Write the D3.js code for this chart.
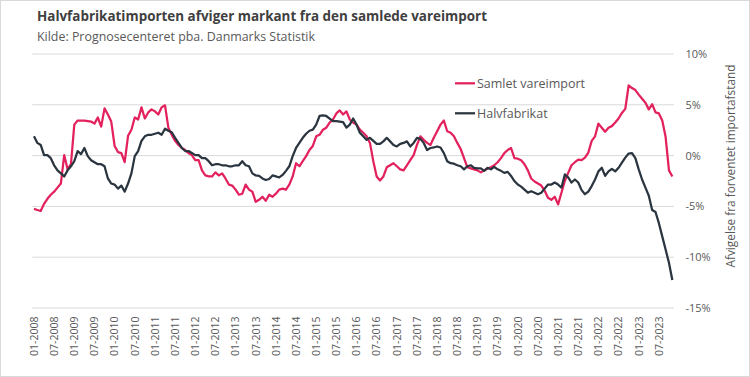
<!DOCTYPE html>
<html lang="da">
<head>
<meta charset="UTF-8">
<title>Halvfabrikatimporten</title>
<style>
  body { margin: 0; background: #fff; }
  svg text { font-family: "Open Sans", "Noto Sans", sans-serif; fill: #595959; }
</style>
</head>
<body>
<svg></svg>
<script src="https://d3js.org/d3.v7.min.js"></script>
<script>
// afvigelse fra forventet importafstand, pct., maanedlig 01-2008 .. 11-2023
const samlet = [
  -5.3, -5.4, -5.5, -4.8, -4.3, -3.9, -3.6, -3.2, -2.8, 0.0,
  -1.4, -0.9, 3.0, 3.4, 3.4, 3.4, 3.35, 3.3, 3.1, 3.7,
  2.8, 4.6, 4.0, 3.3, 0.9, 0.3, 0.2, -0.7, 1.9, 2.5,
  3.7, 3.5, 4.7, 3.6, 4.2, 4.5, 4.3, 4.0, 4.7, 4.9,
  2.7, 2.0, 1.4, 1.0, 0.7, 0.5, 0.2, 0.0, -0.5, -0.5,
  -1.5, -2.0, -2.1, -2.1, -1.7, -2.0, -1.8, -2.3, -2.9, -3.0,
  -3.4, -3.9, -3.8, -2.9, -3.4, -3.6, -4.6, -4.4, -4.1, -4.5,
  -3.9, -4.1, -3.8, -3.4, -3.3, -3.4, -2.9, -2.1, -0.8, -1.1,
  -0.6, -0.1, 0.5, 0.9, 1.85, 2.0, 2.5, 2.7, 3.2, 3.5,
  4.1, 4.4, 4.0, 4.3, 3.5, 3.2, 3.0, 2.5, 2.2, 1.85,
  1.2, -0.6, -2.1, -2.5, -2.1, -1.2, -1.0, -0.8, -1.1, -1.4,
  -1.5, -1.0, -0.5, 0.0, 1.0, 1.85, 1.5, 1.2, 1.0, 1.7,
  2.35, 3.0, 3.4, 2.35, 2.2, 1.85, 1.2, 0.6, -0.3, -1.2,
  -1.3, -1.4, -1.5, -1.7, -1.5, -1.35, -1.2, -1.0, -0.7, -0.3,
  0.2, 0.5, 0.7, -0.3, -0.35, -0.5, -0.9, -1.5, -2.3, -2.6,
  -2.8, -3.0, -3.5, -4.2, -4.4, -4.1, -4.85, -3.7, -2.55, -1.75,
  -1.0, -0.7, -0.45, -0.5, -0.25, 0.25, 1.4, 1.85, 3.1, 2.7,
  2.3, 2.7, 2.85, 3.2, 3.6, 4.15, 4.55, 6.85, 6.6, 6.4,
  5.95, 5.55, 5.15, 4.5, 5.0, 4.2, 4.1, 3.4, 1.8, -1.5,
  -2.1
];

const halvfabrikat = [
  1.85, 1.2, 1.0, 0.0, 0.0, -0.3, -1.0, -1.5, -1.8, -2.1,
  -1.5, -1.1, -0.6, 0.4, 0.1, 0.7, -0.1, -0.5, -0.7, -0.9,
  -0.9, -1.1, -2.3, -2.8, -2.9, -3.3, -3.0, -3.6, -2.8, -1.8,
  -0.1, 0.4, 1.4, 1.85, 2.0, 2.0, 2.1, 2.2, 2.0, 2.6,
  2.4, 2.25, 1.7, 1.2, 0.7, 0.4, 0.4, 0.2, 0.0, 0.0,
  -0.3, -0.3, -0.6, -1.0, -0.9, -0.9, -1.0, -1.0, -1.1, -1.1,
  -1.0, -1.0, -0.6, -1.0, -1.1, -1.8, -2.0, -2.05, -2.3, -2.45,
  -2.35, -2.0, -2.1, -2.2, -1.95, -1.55, -1.1, -0.1, 0.7, 1.2,
  1.7, 2.1, 2.4, 2.5, 3.0, 3.85, 3.9, 3.85, 3.6, 3.35,
  3.35, 3.3, 3.25, 2.7, 3.0, 3.6, 3.0, 2.2, 1.85, 1.5,
  1.7, 1.4, 1.1, 1.1, 1.35, 1.7, 1.35, 1.0, 0.85, 1.1,
  1.2, 1.35, 0.85, 1.2, 1.7, 1.6, 1.2, 0.5, 0.7, 0.75,
  0.85, 0.75, 0.2, -0.6, -0.8, -0.85, -1.0, -1.1, -1.4, -1.1,
  -1.0, -1.25, -1.3, -1.3, -1.55, -1.25, -1.4, -1.15, -1.4, -1.55,
  -1.75, -1.65, -2.05, -2.55, -2.9, -3.1, -3.4, -3.7, -3.55, -3.7,
  -3.85, -3.7, -3.3, -2.9, -2.9, -2.7, -2.9, -3.2, -1.9, -2.2,
  -2.7, -2.4, -2.7, -3.45, -3.85, -3.6, -3.05, -2.4, -1.6, -1.25,
  -2.05, -1.6, -1.35, -1.6, -1.25, -0.75, -0.25, 0.15, 0.2, -0.3,
  -1.4, -2.4, -3.2, -4.0, -5.4, -5.6, -6.7, -8.0, -9.3, -10.6,
  -12.3
];

const tickLabels = [
  "01-2008", "07-2008", "01-2009", "07-2009", "01-2010", "07-2010", "01-2011", "07-2011",
  "01-2012", "07-2012", "01-2013", "07-2013", "01-2014", "07-2014", "01-2015", "07-2015",
  "01-2016", "07-2016", "01-2017", "07-2017", "01-2018", "07-2018", "01-2019", "07-2019",
  "01-2020", "07-2020", "01-2021", "07-2021", "01-2022", "07-2022", "01-2023", "07-2023"
];
const yTicks = [-15, -10, -5, 0, 5, 10];
const seriesNames = ["Samlet vareimport", "Halvfabrikat"];
const seriesColors = ["#e2215d", "#2a3540"];

const width = 750, height = 377;
const plot = {left: 32.3, right: 674, top: 53.5, bottom: 307.5};

// maanedskategorier
const months = d3.timeMonth
  .range(new Date(2008, 0, 1), new Date(2008, samlet.length, 1))
  .map(d3.timeFormat("%m-%Y"));

const series = [samlet, halvfabrikat].map((vals, k) => ({
  name: seriesNames[k],
  color: seriesColors[k],
  values: vals.map((v, i) => ({month: months[i], value: v}))
}));

const svg = d3.select("svg").attr("width", width).attr("height", height);

svg.append("rect")
    .attr("x", 0.5).attr("y", 0.5)
    .attr("width", width - 1).attr("height", height - 1)
    .attr("fill", "#fff").attr("stroke", "#d9d9d9");

const x = d3.scaleBand().domain(months).range([plot.left, plot.right]).padding(0);
const y = d3.scaleLinear().domain([-15, 10]).range([plot.bottom, plot.top]);
const xc = m => x(m) + x.bandwidth() / 2;

// gitter + hoejre akse
svg.append("g")
    .attr("transform", `translate(${plot.right},0)`)
    .call(d3.axisRight(y).tickValues(yTicks).tickSize(plot.left - plot.right)
      .tickPadding(0).tickFormat(d => d + "%"))
    .call(g => g.select(".domain").remove())
    .call(g => g.selectAll(".tick line").attr("stroke", "#d9d9d9").attr("stroke-width", 1))
    .call(g => g.selectAll(".tick text")
      .attr("x", 11.5).attr("dy", "0.36em")
      .style("font-size", "11px").attr("text-anchor", "start"));

// x-akse
svg.append("g")
    .attr("transform", `translate(0,${plot.bottom})`)
    .call(d3.axisBottom(x).tickValues(tickLabels).tickSize(0))
    .call(g => g.select(".domain").remove())
    .call(g => g.selectAll(".tick text")
      .attr("transform", "rotate(-90)")
      .attr("x", -9).attr("y", 0).attr("dy", "0.36em")
      .attr("text-anchor", "end")
      .style("font-size", "10.5px"));

const line = d3.line()
    .x(d => xc(d.month))
    .y(d => y(d.value));

svg.append("g")
  .selectAll("path")
  .data(series)
  .join("path")
    .attr("fill", "none")
    .attr("stroke", d => d.color)
    .attr("stroke-width", 2.25)
    .attr("stroke-linejoin", "round")
    .attr("d", d => line(d.values));

// legend
const legend = svg.append("g")
  .selectAll("g")
  .data(series)
  .join("g")
    .attr("transform", (d, i) => `translate(455,${83.3 + i * 30})`);
legend.append("line")
    .attr("x1", 0).attr("x2", 20)
    .attr("stroke", d => d.color).attr("stroke-width", 2.25);
legend.append("text")
    .attr("x", 22).attr("dy", "0.36em")
    .style("font-size", "12.5px")
    .text(d => d.name);

// titler
svg.append("text")
    .attr("x", 37).attr("y", 21)
    .style("font-size", "13.5px").style("font-weight", "bold")
    .style("fill", "#404040")
    .attr("textLength", 450).attr("lengthAdjust", "spacingAndGlyphs")
    .text("Halvfabrikatimporten afviger markant fra den samlede vareimport");

svg.append("text")
    .attr("x", 37).attr("y", 41)
    .style("font-size", "12.5px")
    .attr("textLength", 278).attr("lengthAdjust", "spacingAndGlyphs")
    .text("Kilde: Prognosecenteret pba. Danmarks Statistik");

svg.append("text")
    .attr("transform", "translate(735,166) rotate(-90)")
    .attr("text-anchor", "middle")
    .style("font-size", "12px")
    .attr("textLength", 203).attr("lengthAdjust", "spacingAndGlyphs")
    .text("Afvigelse fra forventet importafstand");
</script>
</body>
</html>
